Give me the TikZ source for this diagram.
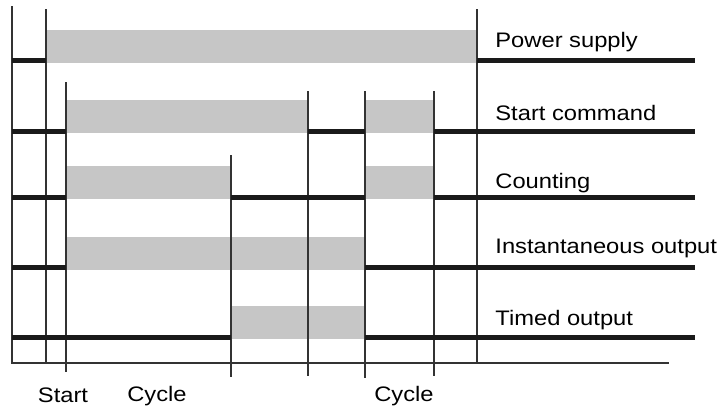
\documentclass[tikz,border=0pt]{standalone}
\usepackage{fontspec}
\setmainfont{Liberation Sans}[FakeStretch=1.13]
\usepackage{tikz}
\usepackage{xcolor}
\definecolor{bandgray}{HTML}{C6C6C6}
\definecolor{sigblack}{HTML}{1A1A1A}

\begin{document}
\begin{tikzpicture}[x=0.5pt,y=-0.5pt,
    band/.style={fill=bandgray},
    sig/.style={sigblack, line width=2.5pt},
    edge/.style={black!80, line width=0.65pt},
    lbl/.style={anchor=base west, inner sep=0pt, font=\fontsize{10.5}{12}\selectfont},
    axlbl/.style={anchor=base, inner sep=0pt, font=\fontsize{10.5}{12}\selectfont}]
    \useasboundingbox (0,0) rectangle (724,408);
    \def\ya{60.5}
    \def\yb{131}
    \def\yc{197}
    \def\yd{267.5}
    \def\ye{337}
    \def\hb{31}
    % high levels
    \fill[band] (46,\ya-\hb) rectangle (477,\ya+2);
    \fill[band] (66,\yb-\hb) rectangle (308,\yb+2);
    \fill[band] (365,\yb-\hb) rectangle (434,\yb+2);
    \fill[band] (66,\yc-\hb) rectangle (231,\yc+2);
    \fill[band] (365,\yc-\hb) rectangle (434,\yc+2);
    \fill[band] (66,\yd-\hb) rectangle (365,\yd+2);
    \fill[band] (231,\ye-\hb) rectangle (365,\ye+2);
    % time marks
    \draw[edge] (12,6) -- (12,363) -- (669,363);
    \draw[edge] (46,9) -- (46,363);
    \draw[edge] (66,82) -- (66,372);
    \draw[edge] (231,155) -- (231,377);
    \draw[edge] (308,91) -- (308,376);
    \draw[edge] (365,91) -- (365,378);
    \draw[edge] (434,91) -- (434,376);
    \draw[edge] (477,9) -- (477,363);
    % low levels
    \draw[sig] (12,\ya) -- (46,\ya);
    \draw[sig] (477,\ya) -- (695,\ya);
    \draw[sig] (12,\yb) -- (66,\yb);
    \draw[sig] (308,\yb) -- (365,\yb);
    \draw[sig] (434,\yb) -- (695,\yb);
    \draw[sig] (12,\yc) -- (66,\yc);
    \draw[sig] (231,\yc) -- (365,\yc);
    \draw[sig] (434,\yc) -- (695,\yc);
    \draw[sig] (12,\yd) -- (66,\yd);
    \draw[sig] (365,\yd) -- (695,\yd);
    \draw[sig] (12,\ye) -- (231,\ye);
    \draw[sig] (365,\ye) -- (695,\ye);
    % signal names
    \node[lbl] (power) at (495,47) {Power supply};
    \node[lbl] (startcmd) at (495,120) {Start command};
    \node[lbl] (counting) at (495,188) {Counting};
    \node[lbl] (instout) at (495,253) {Instantaneous output};
    \node[lbl] (timedout) at (495,325) {Timed output};
    % time axis
    \node[axlbl] (start) at (63,402) {Start};
    \node[axlbl] (cyclea) at (157,401) {Cycle};
    \node[axlbl] (cycleb) at (404,401) {Cycle};
\end{tikzpicture}
\end{document}
